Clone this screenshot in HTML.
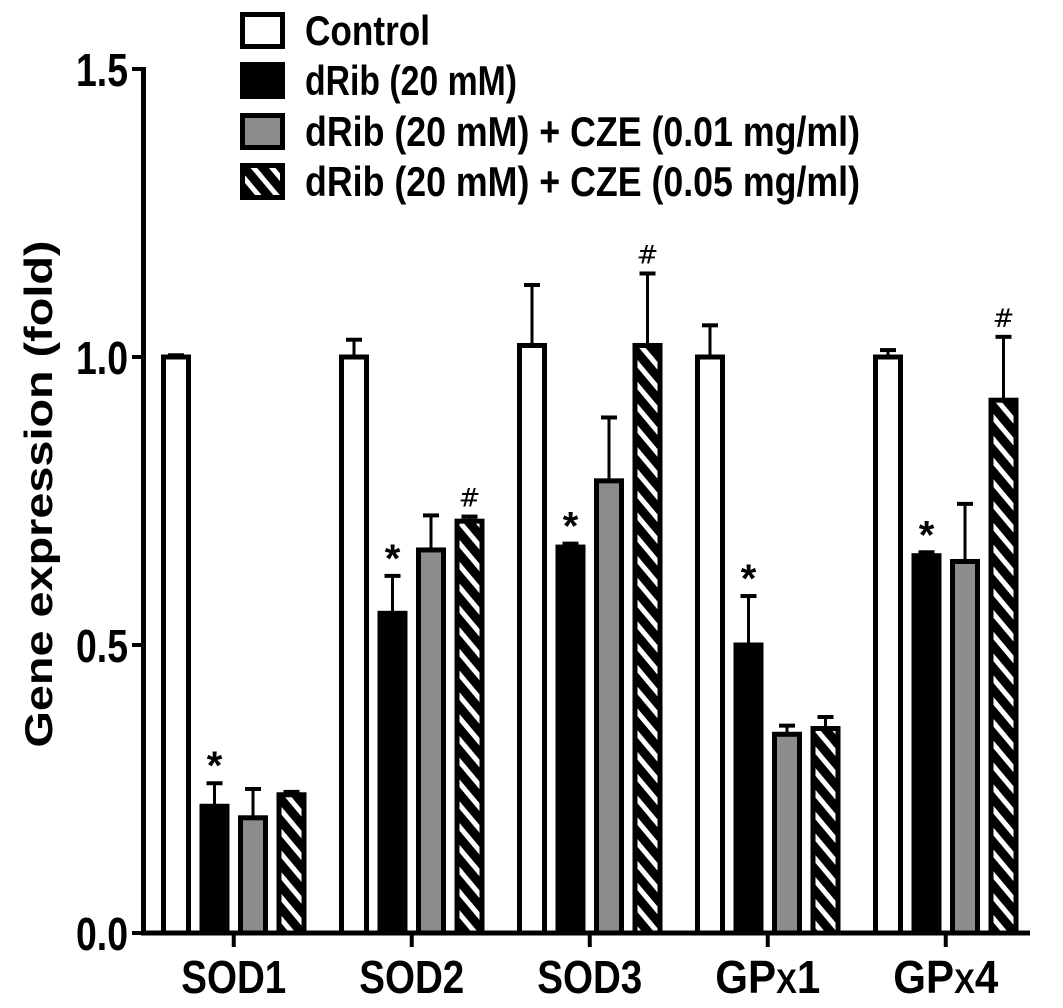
<!DOCTYPE html>
<html><head><meta charset="utf-8"><style>
html,body{margin:0;padding:0;background:#fff;}
svg{display:block;font-family:"Liberation Sans",Arial,sans-serif;font-weight:bold;}
</style></head><body>
<svg id="chart" width="1063" height="1008" viewBox="0 0 1063 1008" xmlns="http://www.w3.org/2000/svg">
<defs>
<pattern id="hatch" patternUnits="userSpaceOnUse" width="14" height="14" patternTransform="rotate(-40)">
<rect width="14" height="14" fill="#000"/>
<rect x="0" y="0" width="5" height="14" fill="#fff"/>
</pattern>
</defs>
<g id="axes"></g>
<g id="bars"></g>
<g id="legend"></g>
</svg>
<script>
const categories = ["SOD1","SOD2","SOD3","GPx1","GPx4"];
const seriesNames = ["Control","dRib (20 mM)","dRib (20 mM)  + CZE (0.01 mg/ml)","dRib (20 mM)  + CZE (0.05 mg/ml)"];
const controlVals = [1.0,1.0,1.02,1.0,1.0];
const controlErr = [0.003,0.03,0.105,0.055,0.012];
const dribVals = [0.22,0.555,0.67,0.5,0.655];
const dribErr = [0.04,0.065,0.006,0.085,0.006];
const cze01Vals = [0.2,0.665,0.785,0.345,0.645];
const cze01Err = [0.05,0.06,0.11,0.015,0.1];
const cze05Vals = [0.24,0.715,1.02,0.355,0.925];
const cze05Err = [0.005,0.008,0.125,0.02,0.11];
const yTicks = [0.0,0.5,1.0,1.5];
const yTickLabels = ["0.0","0.5","1.0","1.5"];
const marks = [["","*","",""],["","*","","#"],["","*","","#"],["","*","",""],["","*","","#"]];

const NS="http://www.w3.org/2000/svg";
const svg=document.getElementById('chart');
const gA=document.getElementById('axes'), gB=document.getElementById('bars'), gL=document.getElementById('legend');
const y0=933, yPerUnit=576;
function yScale(v){return y0 - v*yPerUnit;}
const groupStart=161, groupPitch=178, barPitch=38.5, barW=30;
function xScale(ci,si){return groupStart + ci*groupPitch + si*barPitch;}
function mk(tag,attrs,parent){const e=document.createElementNS(NS,tag);for(const k in attrs)e.setAttribute(k,attrs[k]);parent.appendChild(e);return e;}
const fills=["#fff","#000","#8c8c8c","url(#hatch)"];
const vals=[controlVals,dribVals,cze01Vals,cze05Vals];
const errs=[controlErr,dribErr,cze01Err,cze05Err];

let yl=mk('line',{x1:143.5,y1:yScale(1.5)-2,x2:143.5,y2:y0+2,stroke:'#000','stroke-width':5},gA);


let xl=mk('line',{x1:141,y1:y0,x2:1030,y2:y0,stroke:'#000','stroke-width':5},gA);


yTicks.forEach((t,i)=>{
  const y=yScale(t);
  let tk=mk('line',{x1:132,y1:y,x2:144,y2:y,stroke:'#000','stroke-width':4},gA);
  
  
  let tx=mk('text',{x:128,y:y+17,'text-anchor':'end','font-size':46,textLength:52,lengthAdjust:'spacingAndGlyphs'},gA);
  tx.textContent=yTickLabels[i];
  
  
});
let yt=mk('text',{x:0,y:0,'text-anchor':'middle','font-size':39,transform:'translate(52,494) rotate(-90)',textLength:507,lengthAdjust:'spacingAndGlyphs'},gA);
yt.textContent="Gene expression (fold)";



categories.forEach((c,ci)=>{
  const cx=xScale(ci,0)+ (3*barPitch+barW)/2;
  let tk=mk('line',{x1:cx,y1:y0,x2:cx,y2:y0+14,stroke:'#000','stroke-width':4},gA);
  
  
  let tx=mk('text',{x:cx,y:993,'text-anchor':'middle','font-size':46,textLength:105,lengthAdjust:'spacingAndGlyphs'},gA);
  if(c.startsWith('GP')){
    tx.innerHTML='GP<tspan font-size="34">X</tspan>'+c.slice(3);
  } else tx.textContent=c;
  
  
  for(let si=0;si<4;si++){
    const v=vals[si][ci], e=errs[si][ci];
    const x=xScale(ci,si), ytop=yScale(v);
    const bx=x+barW/2;
    let el=mk('line',{x1:bx,y1:ytop,x2:bx,y2:yScale(v+e),stroke:'#000','stroke-width':3},gB);
    
    
    let ec=mk('line',{x1:bx-8,y1:yScale(v+e),x2:bx+8,y2:yScale(v+e),stroke:'#000','stroke-width':4},gB);
    
    
    let r=mk('rect',{x:x+2.5,y:ytop,width:barW-5,height:y0-ytop,fill:fills[si],stroke:'#000','stroke-width':5},gB);
    
    
    const m=marks[ci][si];
    if(m){
      let mt=mk('text',{x:bx,y:yScale(v+e)-10,'text-anchor':'middle','font-size':26,'font-weight':'normal','font-family':'"DejaVu Sans",sans-serif'},gB);
      if(m==='*'){mt.setAttribute('y',yScale(v+e)-4);mt.setAttribute('font-size',40);mt.setAttribute('font-weight','bold');mt.setAttribute('font-family','"Liberation Sans",sans-serif');}
      mt.textContent=m;
      
      
    }
  }
});

const legTop=[12,62,113,163], textW=[125,212,555,555];
seriesNames.forEach((n,i)=>{
  let b=mk('rect',{x:242.5,y:legTop[i]+2.5,width:40,height:32,fill:fills[i],stroke:'#000','stroke-width':5},gL);
  
  
  let t=mk('text',{x:305,y:legTop[i]+33,'font-size':42,textLength:textW[i],lengthAdjust:'spacingAndGlyphs'},gL);
  t.textContent=n;
  
  
});
</script>
</body></html>
